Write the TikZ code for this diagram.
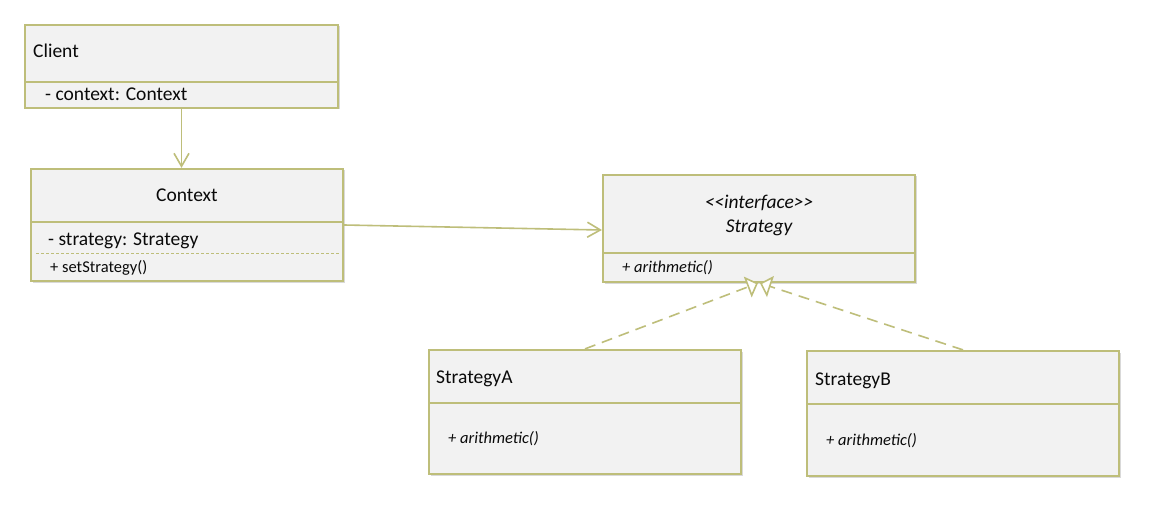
\documentclass[tikz,border=0pt]{standalone}
\usepackage{fontspec}
\setmainfont{Carlito}
\usetikzlibrary{arrows.meta,shadows}
\definecolor{boxline}{RGB}{190,190,122}
\definecolor{boxfill}{RGB}{242,242,242}
\definecolor{txt}{RGB}{10,10,10}
\tikzset{
  umlbox/.style={draw=boxline, line width=2.2pt, fill=boxfill, inner sep=0pt,
    drop shadow={shadow xshift=1.5pt, shadow yshift=-1.5pt, fill=black, opacity=0.15}},
  divider/.style={draw=boxline, line width=2pt},
  nm/.style={anchor=base west, inner sep=0pt, text=txt, font=\fontsize{19.5}{22}\selectfont},
  nmc/.style={anchor=base, inner sep=0pt, text=txt, font=\fontsize{19.5}{22}\selectfont},
  mth/.style={anchor=base west, inner sep=0pt, text=txt, font=\fontsize{16.5}{20}\selectfont},
  assoc/.style={draw=boxline, line width=1.6pt, -{Straight Barb[length=13pt,width=15pt,line width=1.6pt]}},
  realize/.style={draw=boxline, line width=1.6pt, dash pattern=on 11pt off 7pt,
    -{Triangle[open, fill=white, length=11pt, width=22pt, line width=1.6pt]}}
}
\begin{document}
\begin{tikzpicture}[x=1pt,y=-1pt]
\fill[white] (0,0) rectangle (1153,505);
\useasboundingbox (0,0) rectangle (1153,505);

% Client
\node[umlbox, minimum width=313pt, minimum height=83pt] (client) at (181.5,66.5) {};
\draw[divider] (25,82) -- (338,82);
\node[nm] (clientname) at (33,57.5) {Client};
\node[nm] (clientattr) at (45,100.5) {- context: Context};

% Context
\node[umlbox, minimum width=312pt, minimum height=112pt] (context) at (187,225) {};
\draw[divider] (31,222) -- (343,222);
\draw[draw=boxline, line width=1pt, dash pattern=on 3pt off 2pt] (36,253) -- (339,253);
\node[nmc] (contextname) at (187,201.5) {Context};
\node[nm] (contextattr) at (48,245) {- strategy: Strategy};
\node[mth] (contextop) at (50,272.5) {+ setStrategy()};

% Strategy interface
\node[umlbox, minimum width=312pt, minimum height=107pt] (strategy) at (759,228.5) {};
\draw[divider] (603,253) -- (915,253);
\node[nmc] (stereo) at (759,208) {\itshape <\kern0pt<interface>\kern0pt>};
\node[nmc] (strategyname) at (759,232) {\itshape Strategy};
\node[mth] (strategyop) at (622,272.5) {\itshape + arithmetic()};

% StrategyA
\node[umlbox, minimum width=312pt, minimum height=124pt] (stratA) at (585,412) {};
\draw[divider] (429,403) -- (741,403);
\node[nm] (stratAname) at (436,383.5) {StrategyA};
\node[mth] (stratAop) at (448,443.5) {\itshape + arithmetic()};

% StrategyB
\node[umlbox, minimum width=312pt, minimum height=125pt] (stratB) at (963,413.5) {};
\draw[divider] (807,404) -- (1119,404);
\node[nm] (stratBname) at (815,385.5) {StrategyB};
\node[mth] (stratBop) at (826,445.5) {\itshape + arithmetic()};

% connectors
\draw[assoc] (client.south) -- (client.south |- context.north);
\draw[assoc] (context.east) -- ([yshift=-1.5pt]strategy.west);
\draw[realize] (stratA.north) -- ([xshift=-1pt]strategy.south);
\draw[realize] (stratB.north) -- ([xshift=1pt]strategy.south);
\end{tikzpicture}
\end{document}
